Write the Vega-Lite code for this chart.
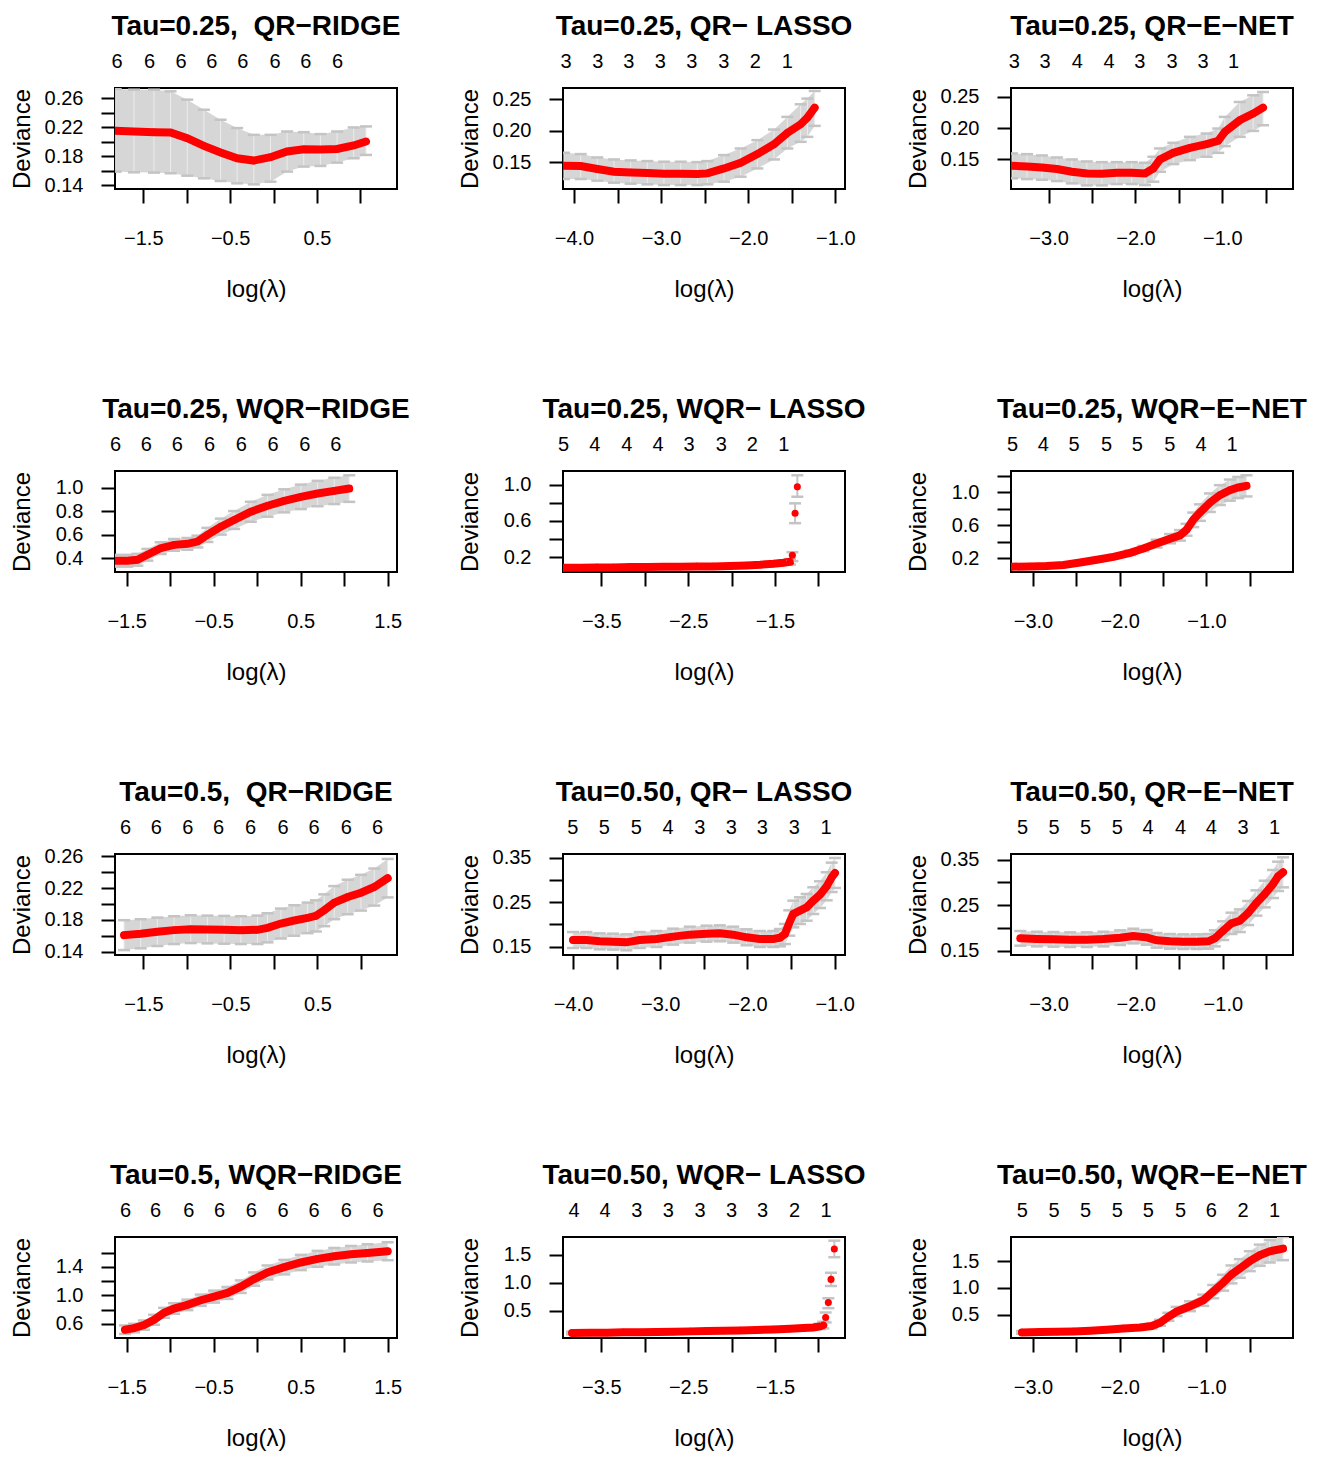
{
"$schema": "https://vega.github.io/schema/vega-lite/v6.json",
"background": "white",
"padding": {"left": 9, "top": 12, "right": 5, "bottom": 5},
"columns": 3,
"bounds": "flush",
"spacing": {"row": 282, "column": 166},
"datasets": {
"p1": [{"x":-1.818,"y":0.2148,"lo":0.1585,"hi":0.2725},{"x":-1.607,"y":0.2138,"lo":0.1575,"hi":0.2715},{"x":-1.377,"y":0.2129,"lo":0.1571,"hi":0.2715},{"x":-1.186,"y":0.2125,"lo":0.1562,"hi":0.2692},{"x":-0.994,"y":0.2046,"lo":0.1529,"hi":0.2577},{"x":-0.802,"y":0.194,"lo":0.1492,"hi":0.2438},{"x":-0.61,"y":0.1848,"lo":0.1455,"hi":0.23},{"x":-0.419,"y":0.1769,"lo":0.1423,"hi":0.2185},{"x":-0.227,"y":0.1737,"lo":0.1409,"hi":0.2092},{"x":-0.035,"y":0.1783,"lo":0.1446,"hi":0.2092},{"x":0.156,"y":0.1862,"lo":0.1585,"hi":0.2138},{"x":0.348,"y":0.1894,"lo":0.1654,"hi":0.2129},{"x":0.54,"y":0.1889,"lo":0.1663,"hi":0.2102},{"x":0.732,"y":0.1898,"lo":0.1709,"hi":0.2138},{"x":0.923,"y":0.1945,"lo":0.1769,"hi":0.2194},{"x":1.065,"y":0.2,"lo":0.1815,"hi":0.2208}],
"p2": [{"x":-4.115,"y":0.1447,"lo":0.1237,"hi":0.1653},{"x":-3.923,"y":0.1442,"lo":0.1237,"hi":0.1632},{"x":-3.732,"y":0.1395,"lo":0.1211,"hi":0.1579},{"x":-3.541,"y":0.1353,"lo":0.1179,"hi":0.1547},{"x":-3.349,"y":0.1342,"lo":0.1163,"hi":0.1532},{"x":-3.158,"y":0.1332,"lo":0.1153,"hi":0.1521},{"x":-2.967,"y":0.1321,"lo":0.1142,"hi":0.1511},{"x":-2.775,"y":0.1321,"lo":0.1142,"hi":0.1511},{"x":-2.584,"y":0.1316,"lo":0.1142,"hi":0.1505},{"x":-2.469,"y":0.1326,"lo":0.1153,"hi":0.1521},{"x":-2.278,"y":0.1405,"lo":0.1195,"hi":0.1616},{"x":-2.087,"y":0.1495,"lo":0.1274,"hi":0.1721},{"x":-1.895,"y":0.1632,"lo":0.1405,"hi":0.1853},{"x":-1.704,"y":0.1789,"lo":0.1547,"hi":0.2021},{"x":-1.551,"y":0.1968,"lo":0.1721,"hi":0.2221},{"x":-1.398,"y":0.2105,"lo":0.1826,"hi":0.2421},{"x":-1.321,"y":0.2211,"lo":0.1905,"hi":0.2511},{"x":-1.237,"y":0.2368,"lo":0.2079,"hi":0.2632}],
"p3": [{"x":-3.421,"y":0.1399,"lo":0.1197,"hi":0.1596},{"x":-3.249,"y":0.1388,"lo":0.1186,"hi":0.1585},{"x":-3.077,"y":0.1372,"lo":0.1176,"hi":0.1564},{"x":-2.904,"y":0.1346,"lo":0.1154,"hi":0.1532},{"x":-2.732,"y":0.1303,"lo":0.1117,"hi":0.15},{"x":-2.56,"y":0.1277,"lo":0.1085,"hi":0.1468},{"x":-2.387,"y":0.1271,"lo":0.1085,"hi":0.1457},{"x":-2.215,"y":0.1287,"lo":0.1106,"hi":0.1457},{"x":-2.043,"y":0.1287,"lo":0.1106,"hi":0.1457},{"x":-1.89,"y":0.1277,"lo":0.109,"hi":0.1447},{"x":-1.794,"y":0.1356,"lo":0.1144,"hi":0.1543},{"x":-1.717,"y":0.15,"lo":0.1303,"hi":0.1676},{"x":-1.564,"y":0.1606,"lo":0.1426,"hi":0.1766},{"x":-1.373,"y":0.1686,"lo":0.1489,"hi":0.1862},{"x":-1.181,"y":0.1745,"lo":0.1543,"hi":0.1915},{"x":-1.047,"y":0.1798,"lo":0.1606,"hi":0.1995},{"x":-0.971,"y":0.1941,"lo":0.1713,"hi":0.2181},{"x":-0.799,"y":0.2128,"lo":0.1862,"hi":0.242},{"x":-0.645,"y":0.2234,"lo":0.1957,"hi":0.2527},{"x":-0.531,"y":0.233,"lo":0.2048,"hi":0.258}],
"p4": [{"x":-1.627,"y":0.3775,"lo":0.3275,"hi":0.4275},{"x":-1.492,"y":0.3775,"lo":0.3275,"hi":0.4275},{"x":-1.377,"y":0.3859,"lo":0.3359,"hi":0.4359},{"x":-1.262,"y":0.4282,"lo":0.3782,"hi":0.4782},{"x":-1.109,"y":0.4845,"lo":0.4345,"hi":0.5345},{"x":-0.955,"y":0.5127,"lo":0.4627,"hi":0.5627},{"x":-0.802,"y":0.5211,"lo":0.4711,"hi":0.5711},{"x":-0.687,"y":0.5408,"lo":0.4908,"hi":0.5908},{"x":-0.572,"y":0.5972,"lo":0.5372,"hi":0.6572},{"x":-0.418,"y":0.6676,"lo":0.5996,"hi":0.7356},{"x":-0.265,"y":0.7239,"lo":0.6479,"hi":0.7999},{"x":-0.073,"y":0.7944,"lo":0.7094,"hi":0.8794},{"x":0.119,"y":0.8451,"lo":0.7521,"hi":0.9381},{"x":0.311,"y":0.8873,"lo":0.7893,"hi":0.9853},{"x":0.502,"y":0.9211,"lo":0.8171,"hi":1.0251},{"x":0.694,"y":0.9493,"lo":0.8413,"hi":1.0573},{"x":0.886,"y":0.9718,"lo":0.8598,"hi":1.0838},{"x":1.058,"y":0.9915,"lo":0.8785,"hi":1.1045}],
"p5": [{"x":-3.933,"y":0.0836,"lo":0.0716,"hi":0.0956},{"x":-3.742,"y":0.0836,"lo":0.0716,"hi":0.0956},{"x":-3.55,"y":0.0873,"lo":0.0753,"hi":0.0993},{"x":-3.358,"y":0.0873,"lo":0.0753,"hi":0.0993},{"x":-3.166,"y":0.0909,"lo":0.0789,"hi":0.1029},{"x":-2.975,"y":0.0909,"lo":0.0789,"hi":0.1029},{"x":-2.783,"y":0.0945,"lo":0.0825,"hi":0.1065},{"x":-2.591,"y":0.0945,"lo":0.0825,"hi":0.1065},{"x":-2.4,"y":0.0982,"lo":0.0862,"hi":0.1102},{"x":-2.208,"y":0.0982,"lo":0.0862,"hi":0.1102},{"x":-2.016,"y":0.1018,"lo":0.0898,"hi":0.1138},{"x":-1.824,"y":0.1091,"lo":0.0971,"hi":0.1211},{"x":-1.671,"y":0.1164,"lo":0.1044,"hi":0.1284},{"x":-1.518,"y":0.1273,"lo":0.1153,"hi":0.1393},{"x":-1.403,"y":0.1382,"lo":0.1182,"hi":0.1582},{"x":-1.326,"y":0.1491,"lo":0.1191,"hi":0.1791}],
"p5s": [{"x":-1.299,"y":0.2218,"lo":0.1564,"hi":0.2545},{"x":-1.268,"y":0.6836,"lo":0.5745,"hi":0.7927},{"x":-1.242,"y":0.9745,"lo":0.8655,"hi":1.1018}],
"p6": [{"x":-3.242,"y":0.1,"lo":0.084,"hi":0.116},{"x":-3.031,"y":0.104,"lo":0.088,"hi":0.12},{"x":-2.839,"y":0.108,"lo":0.092,"hi":0.124},{"x":-2.647,"y":0.12,"lo":0.104,"hi":0.136},{"x":-2.456,"y":0.152,"lo":0.132,"hi":0.172},{"x":-2.264,"y":0.184,"lo":0.164,"hi":0.204},{"x":-2.072,"y":0.22,"lo":0.196,"hi":0.244},{"x":-1.88,"y":0.268,"lo":0.24,"hi":0.296},{"x":-1.727,"y":0.32,"lo":0.288,"hi":0.352},{"x":-1.574,"y":0.38,"lo":0.332,"hi":0.428},{"x":-1.42,"y":0.44,"lo":0.384,"hi":0.496},{"x":-1.305,"y":0.48,"lo":0.416,"hi":0.544},{"x":-1.229,"y":0.548,"lo":0.476,"hi":0.62},{"x":-1.152,"y":0.668,"lo":0.58,"hi":0.756},{"x":-1.075,"y":0.756,"lo":0.656,"hi":0.856},{"x":-0.96,"y":0.876,"lo":0.764,"hi":0.988},{"x":-0.845,"y":0.968,"lo":0.848,"hi":1.088},{"x":-0.73,"y":1.028,"lo":0.9,"hi":1.156},{"x":-0.634,"y":1.06,"lo":0.932,"hi":1.188},{"x":-0.538,"y":1.08,"lo":0.952,"hi":1.208}],
"p7": [{"x":-1.722,"y":0.1608,"lo":0.142,"hi":0.1796},{"x":-1.531,"y":0.1625,"lo":0.1442,"hi":0.1808},{"x":-1.339,"y":0.165,"lo":0.1471,"hi":0.1829},{"x":-1.147,"y":0.1671,"lo":0.1496,"hi":0.1846},{"x":-0.956,"y":0.1683,"lo":0.1508,"hi":0.1858},{"x":-0.764,"y":0.1679,"lo":0.1504,"hi":0.1854},{"x":-0.572,"y":0.1675,"lo":0.15,"hi":0.185},{"x":-0.38,"y":0.1671,"lo":0.1496,"hi":0.1846},{"x":-0.189,"y":0.1675,"lo":0.1496,"hi":0.1854},{"x":-0.074,"y":0.17,"lo":0.1517,"hi":0.1883},{"x":0.08,"y":0.1754,"lo":0.1566,"hi":0.1942},{"x":0.233,"y":0.1792,"lo":0.16,"hi":0.1984},{"x":0.387,"y":0.1825,"lo":0.1633,"hi":0.2017},{"x":0.482,"y":0.185,"lo":0.1654,"hi":0.2046},{"x":0.578,"y":0.1921,"lo":0.1721,"hi":0.2121},{"x":0.693,"y":0.2017,"lo":0.1809,"hi":0.2225},{"x":0.847,"y":0.2088,"lo":0.1871,"hi":0.2305},{"x":1.0,"y":0.2142,"lo":0.1917,"hi":0.2367},{"x":1.153,"y":0.2213,"lo":0.198,"hi":0.2446},{"x":1.307,"y":0.2325,"lo":0.2083,"hi":0.2567}],
"p8": [{"x":-4.0,"y":0.165,"lo":0.147,"hi":0.183},{"x":-3.847,"y":0.165,"lo":0.147,"hi":0.183},{"x":-3.694,"y":0.162,"lo":0.144,"hi":0.18},{"x":-3.541,"y":0.1613,"lo":0.1433,"hi":0.1793},{"x":-3.388,"y":0.1598,"lo":0.1418,"hi":0.1778},{"x":-3.235,"y":0.165,"lo":0.147,"hi":0.183},{"x":-3.043,"y":0.1673,"lo":0.1493,"hi":0.1853},{"x":-2.852,"y":0.1726,"lo":0.1546,"hi":0.1906},{"x":-2.661,"y":0.1771,"lo":0.1591,"hi":0.1951},{"x":-2.469,"y":0.1793,"lo":0.1613,"hi":0.1973},{"x":-2.316,"y":0.1801,"lo":0.1621,"hi":0.1981},{"x":-2.163,"y":0.1771,"lo":0.1591,"hi":0.1951},{"x":-2.01,"y":0.1711,"lo":0.1531,"hi":0.1891},{"x":-1.857,"y":0.1673,"lo":0.1493,"hi":0.1853},{"x":-1.704,"y":0.1673,"lo":0.1493,"hi":0.1853},{"x":-1.627,"y":0.1703,"lo":0.1508,"hi":0.1898},{"x":-1.57,"y":0.1786,"lo":0.156,"hi":0.2012},{"x":-1.52,"y":0.2034,"lo":0.1748,"hi":0.232},{"x":-1.474,"y":0.2237,"lo":0.1936,"hi":0.2538},{"x":-1.398,"y":0.2312,"lo":0.2011,"hi":0.2613},{"x":-1.321,"y":0.2387,"lo":0.2086,"hi":0.2688},{"x":-1.245,"y":0.2538,"lo":0.2237,"hi":0.2839},{"x":-1.168,"y":0.2673,"lo":0.2372,"hi":0.2974},{"x":-1.091,"y":0.2861,"lo":0.2545,"hi":0.3177},{"x":-1.034,"y":0.3064,"lo":0.2733,"hi":0.3395},{"x":-0.996,"y":0.3162,"lo":0.2824,"hi":0.35}],
"p9": [{"x":-3.324,"y":0.1771,"lo":0.161,"hi":0.1932},{"x":-3.134,"y":0.1756,"lo":0.1595,"hi":0.1917},{"x":-2.943,"y":0.1749,"lo":0.1588,"hi":0.191},{"x":-2.752,"y":0.1742,"lo":0.1581,"hi":0.1903},{"x":-2.561,"y":0.1742,"lo":0.1581,"hi":0.1903},{"x":-2.37,"y":0.1756,"lo":0.1595,"hi":0.1917},{"x":-2.179,"y":0.1786,"lo":0.1625,"hi":0.1947},{"x":-2.027,"y":0.1822,"lo":0.1661,"hi":0.1983},{"x":-1.874,"y":0.1793,"lo":0.1632,"hi":0.1954},{"x":-1.76,"y":0.1727,"lo":0.1566,"hi":0.1888},{"x":-1.607,"y":0.1705,"lo":0.1544,"hi":0.1866},{"x":-1.454,"y":0.1698,"lo":0.1537,"hi":0.1859},{"x":-1.302,"y":0.1698,"lo":0.1537,"hi":0.1859},{"x":-1.168,"y":0.1705,"lo":0.1544,"hi":0.1866},{"x":-1.092,"y":0.1771,"lo":0.1595,"hi":0.1947},{"x":-0.996,"y":0.194,"lo":0.1735,"hi":0.2145},{"x":-0.901,"y":0.2101,"lo":0.1867,"hi":0.2335},{"x":-0.805,"y":0.2159,"lo":0.191,"hi":0.2408},{"x":-0.71,"y":0.2328,"lo":0.2064,"hi":0.2592},{"x":-0.615,"y":0.2548,"lo":0.227,"hi":0.2826},{"x":-0.519,"y":0.2745,"lo":0.2452,"hi":0.3038},{"x":-0.424,"y":0.2965,"lo":0.2657,"hi":0.3273},{"x":-0.366,"y":0.3134,"lo":0.2812,"hi":0.3456},{"x":-0.309,"y":0.3222,"lo":0.2892,"hi":0.3552}],
"p10": [{"x":-1.519,"y":0.5163,"lo":0.4563,"hi":0.5763},{"x":-1.416,"y":0.5395,"lo":0.4795,"hi":0.5995},{"x":-1.301,"y":0.5814,"lo":0.5164,"hi":0.6464},{"x":-1.185,"y":0.6558,"lo":0.5858,"hi":0.7258},{"x":-1.07,"y":0.7535,"lo":0.6835,"hi":0.8235},{"x":-0.955,"y":0.814,"lo":0.74,"hi":0.888},{"x":-0.802,"y":0.8651,"lo":0.7911,"hi":0.9391},{"x":-0.648,"y":0.9302,"lo":0.8512,"hi":1.0092},{"x":-0.495,"y":0.9814,"lo":0.8974,"hi":1.0654},{"x":-0.342,"y":1.0326,"lo":0.9486,"hi":1.1166},{"x":-0.188,"y":1.1209,"lo":1.0329,"hi":1.2089},{"x":-0.035,"y":1.2279,"lo":1.1349,"hi":1.3209},{"x":0.119,"y":1.3209,"lo":1.2229,"hi":1.4189},{"x":0.311,"y":1.3953,"lo":1.2933,"hi":1.4973},{"x":0.502,"y":1.4605,"lo":1.3535,"hi":1.5675},{"x":0.694,"y":1.5116,"lo":1.3996,"hi":1.6236},{"x":0.886,"y":1.5488,"lo":1.4328,"hi":1.6648},{"x":1.078,"y":1.5767,"lo":1.4607,"hi":1.6927},{"x":1.269,"y":1.5953,"lo":1.4743,"hi":1.7163},{"x":1.5,"y":1.6186,"lo":1.4926,"hi":1.7446}],
"p11": [{"x":-3.837,"y":0.1059,"lo":0.0824,"hi":0.1294},{"x":-3.627,"y":0.1118,"lo":0.0883,"hi":0.1353},{"x":-3.435,"y":0.1118,"lo":0.0883,"hi":0.1353},{"x":-3.243,"y":0.1176,"lo":0.0941,"hi":0.1411},{"x":-3.051,"y":0.1176,"lo":0.0941,"hi":0.1411},{"x":-2.86,"y":0.1235,"lo":0.1,"hi":0.147},{"x":-2.668,"y":0.1294,"lo":0.1059,"hi":0.1529},{"x":-2.476,"y":0.1353,"lo":0.1118,"hi":0.1588},{"x":-2.285,"y":0.1412,"lo":0.1177,"hi":0.1647},{"x":-2.093,"y":0.1471,"lo":0.1236,"hi":0.1706},{"x":-1.901,"y":0.1529,"lo":0.1294,"hi":0.1764},{"x":-1.709,"y":0.1588,"lo":0.1353,"hi":0.1823},{"x":-1.518,"y":0.1706,"lo":0.1471,"hi":0.1941},{"x":-1.326,"y":0.1824,"lo":0.1589,"hi":0.2059},{"x":-1.173,"y":0.1941,"lo":0.1706,"hi":0.2176},{"x":-1.058,"y":0.2059,"lo":0.1709,"hi":0.2409},{"x":-0.981,"y":0.2235,"lo":0.1765,"hi":0.2705},{"x":-0.943,"y":0.2471,"lo":0.1881,"hi":0.3061}],
"p11s": [{"x":-0.916,"y":0.3824,"lo":0.2941,"hi":0.4706},{"x":-0.885,"y":0.6471,"lo":0.5471,"hi":0.7235},{"x":-0.854,"y":1.0588,"lo":0.9412,"hi":1.1765},{"x":-0.816,"y":1.6,"lo":1.4529,"hi":1.7471}],
"p12": [{"x":-3.127,"y":0.1728,"lo":0.1481,"hi":0.1975},{"x":-2.916,"y":0.179,"lo":0.1543,"hi":0.2037},{"x":-2.724,"y":0.1852,"lo":0.1605,"hi":0.2099},{"x":-2.532,"y":0.1914,"lo":0.1667,"hi":0.2161},{"x":-2.34,"y":0.2037,"lo":0.179,"hi":0.2284},{"x":-2.149,"y":0.2222,"lo":0.1913,"hi":0.2531},{"x":-1.957,"y":0.2469,"lo":0.216,"hi":0.2778},{"x":-1.765,"y":0.2654,"lo":0.2284,"hi":0.3024},{"x":-1.631,"y":0.2901,"lo":0.2469,"hi":0.3333},{"x":-1.535,"y":0.3519,"lo":0.2963,"hi":0.4075},{"x":-1.439,"y":0.463,"lo":0.3889,"hi":0.5371},{"x":-1.344,"y":0.5617,"lo":0.4753,"hi":0.6481},{"x":-1.19,"y":0.6605,"lo":0.5679,"hi":0.7531},{"x":-1.037,"y":0.7716,"lo":0.6667,"hi":0.8765},{"x":-0.922,"y":0.9321,"lo":0.8086,"hi":1.0556},{"x":-0.807,"y":1.0988,"lo":0.9507,"hi":1.2469},{"x":-0.711,"y":1.2531,"lo":1.0864,"hi":1.4198},{"x":-0.615,"y":1.3642,"lo":1.1914,"hi":1.537},{"x":-0.5,"y":1.5,"lo":1.3148,"hi":1.6852},{"x":-0.385,"y":1.6111,"lo":1.4136,"hi":1.8086},{"x":-0.27,"y":1.6852,"lo":1.4753,"hi":1.8951},{"x":-0.117,"y":1.7346,"lo":1.5186,"hi":1.9506}]
},
"concat": [
{"width":282,"height":101,"title":{"text":"Tau=0.25, \u00a0QR−RIDGE"},"data":{"name":"p1"},
 "encoding":{"x":{"field":"x","type":"quantitative","title":"log(λ)","scale":{"domain":[-1.826,1.422],"nice":false,"zero":false},"axis":{"tickCount":30,"values":[-1.5,-1,-0.5,0,0.5,1],"format":".1f","labelExpr":"indexof([-1.5,-0.5,0.5], datum.value) >= 0 ? datum.label : ''"}}},
 "layer":[
  {"layer":[
   {"mark":{"type":"area","color":"#d6d6d6","opacity":1,"clip":true},"encoding":{"y":{"field":"lo","type":"quantitative","title":"Deviance","scale":{"domain":[0.1345,0.2738],"nice":false,"zero":false},"axis":{"tickCount":30,"values":[0.14,0.16,0.18,0.2,0.22,0.24,0.26],"format":".2f","labelExpr":"indexof([0.14,0.18,0.22,0.26], datum.value) >= 0 ? datum.label : ''"}},"y2":{"field":"hi"}}},
   {"mark":{"type":"rule","color":"#ececec","strokeWidth":1,"clip":true},"encoding":{"y":{"field":"lo","type":"quantitative","title":"Deviance"},"y2":{"field":"hi"}}},
   {"mark":{"type":"point","shape":"M-1,0L1,0","filled":false,"color":"#c4c4c4","strokeWidth":2.5,"size":144,"opacity":1,"clip":true},"encoding":{"y":{"field":"hi","type":"quantitative","title":"Deviance"}}},
   {"mark":{"type":"point","shape":"M-1,0L1,0","filled":false,"color":"#c4c4c4","strokeWidth":2.5,"size":144,"opacity":1,"clip":true},"encoding":{"y":{"field":"lo","type":"quantitative","title":"Deviance"}}},
   {"mark":{"type":"line","color":"#ff0000","strokeWidth":8,"strokeCap":"round","clip":true},"encoding":{"y":{"field":"y","type":"quantitative","title":"Deviance"}}}
  ]},
  {"mark":{"type":"point","filled":true,"color":"#ff0000","size":50,"opacity":1,"clip":true},"encoding":{"y":{"field":"y","type":"quantitative","title":"Deviance"},"x":{"field":"x","type":"quantitative","scale":{"domain":[-1.826,1.422],"nice":false,"zero":false},"axis":{"orient":"top","title":null,"tickCount":30,"values":[-1.807,-1.435,-1.071,-0.718,-0.361,0.011,0.367,0.732],"labelExpr":"'6'"}}}}
 ],
 "resolve":{"axis":{"x":"independent"}}},
{"width":282,"height":101,"title":{"text":"Tau=0.25, QR− LASSO"},"data":{"name":"p2"},
 "encoding":{"x":{"field":"x","type":"quantitative","title":"log(λ)","scale":{"domain":[-4.126,-0.889],"nice":false,"zero":false},"axis":{"tickCount":30,"values":[-4,-3.5,-3,-2.5,-2,-1.5,-1],"format":".1f","labelExpr":"indexof([-4,-3,-2,-1], datum.value) >= 0 ? datum.label : ''"}}},
 "layer":[
  {"layer":[
   {"mark":{"type":"area","color":"#d6d6d6","opacity":1,"clip":true},"encoding":{"y":{"field":"lo","type":"quantitative","title":"Deviance","scale":{"domain":[0.1079,0.2679],"nice":false,"zero":false},"axis":{"tickCount":30,"values":[0.15,0.2,0.25],"format":".2f"}},"y2":{"field":"hi"}}},
   {"mark":{"type":"rule","color":"#ececec","strokeWidth":1,"clip":true},"encoding":{"y":{"field":"lo","type":"quantitative","title":"Deviance"},"y2":{"field":"hi"}}},
   {"mark":{"type":"point","shape":"M-1,0L1,0","filled":false,"color":"#c4c4c4","strokeWidth":2.5,"size":144,"opacity":1,"clip":true},"encoding":{"y":{"field":"hi","type":"quantitative","title":"Deviance"}}},
   {"mark":{"type":"point","shape":"M-1,0L1,0","filled":false,"color":"#c4c4c4","strokeWidth":2.5,"size":144,"opacity":1,"clip":true},"encoding":{"y":{"field":"lo","type":"quantitative","title":"Deviance"}}},
   {"mark":{"type":"line","color":"#ff0000","strokeWidth":8,"strokeCap":"round","clip":true},"encoding":{"y":{"field":"y","type":"quantitative","title":"Deviance"}}}
  ]},
  {"mark":{"type":"point","filled":true,"color":"#ff0000","size":50,"opacity":1,"clip":true},"encoding":{"y":{"field":"y","type":"quantitative","title":"Deviance"},"x":{"field":"x","type":"quantitative","scale":{"domain":[-4.126,-0.889],"nice":false,"zero":false},"axis":{"orient":"top","title":null,"tickCount":30,"values":[-4.096,-3.732,-3.376,-3.016,-2.652,-2.285,-1.925,-1.558],"labelExpr":"['3','3','3','3','3','3','2','1'][indexof([-4.096,-3.732,-3.376,-3.016,-2.652,-2.285,-1.925,-1.558], datum.value)]"}}}}
 ],
 "resolve":{"axis":{"x":"independent"}}},
{"width":282,"height":101,"title":{"text":"Tau=0.25, QR−E−NET"},"data":{"name":"p3"},
 "encoding":{"x":{"field":"x","type":"quantitative","title":"log(λ)","scale":{"domain":[-3.433,-0.186],"nice":false,"zero":false},"axis":{"tickCount":30,"values":[-3,-2.5,-2,-1.5,-1,-0.5],"format":".1f","labelExpr":"indexof([-3,-2,-1], datum.value) >= 0 ? datum.label : ''"}}},
 "layer":[
  {"layer":[
   {"mark":{"type":"area","color":"#d6d6d6","opacity":1,"clip":true},"encoding":{"y":{"field":"lo","type":"quantitative","title":"Deviance","scale":{"domain":[0.1027,0.2644],"nice":false,"zero":false},"axis":{"tickCount":30,"values":[0.15,0.2,0.25],"format":".2f"}},"y2":{"field":"hi"}}},
   {"mark":{"type":"rule","color":"#ececec","strokeWidth":1,"clip":true},"encoding":{"y":{"field":"lo","type":"quantitative","title":"Deviance"},"y2":{"field":"hi"}}},
   {"mark":{"type":"point","shape":"M-1,0L1,0","filled":false,"color":"#c4c4c4","strokeWidth":2.5,"size":144,"opacity":1,"clip":true},"encoding":{"y":{"field":"hi","type":"quantitative","title":"Deviance"}}},
   {"mark":{"type":"point","shape":"M-1,0L1,0","filled":false,"color":"#c4c4c4","strokeWidth":2.5,"size":144,"opacity":1,"clip":true},"encoding":{"y":{"field":"lo","type":"quantitative","title":"Deviance"}}},
   {"mark":{"type":"line","color":"#ff0000","strokeWidth":8,"strokeCap":"round","clip":true},"encoding":{"y":{"field":"y","type":"quantitative","title":"Deviance"}}}
  ]},
  {"mark":{"type":"point","filled":true,"color":"#ff0000","size":50,"opacity":1,"clip":true},"encoding":{"y":{"field":"y","type":"quantitative","title":"Deviance"},"x":{"field":"x","type":"quantitative","scale":{"domain":[-3.433,-0.186],"nice":false,"zero":false},"axis":{"orient":"top","title":null,"tickCount":30,"values":[-3.402,-3.046,-2.675,-2.311,-1.955,-1.583,-1.227,-0.875],"labelExpr":"['3','3','4','4','3','3','3','1'][indexof([-3.402,-3.046,-2.675,-2.311,-1.955,-1.583,-1.227,-0.875], datum.value)]"}}}}
 ],
 "resolve":{"axis":{"x":"independent"}}},
{"width":282,"height":101,"title":{"text":"Tau=0.25, WQR−RIDGE"},"data":{"name":"p4"},
 "encoding":{"x":{"field":"x","type":"quantitative","title":"log(λ)","scale":{"domain":[-1.634,1.607],"nice":false,"zero":false},"axis":{"tickCount":30,"values":[-1.5,-1,-0.5,0,0.5,1,1.5],"format":".1f","labelExpr":"indexof([-1.5,-0.5,0.5,1.5], datum.value) >= 0 ? datum.label : ''"}}},
 "layer":[
  {"layer":[
   {"mark":{"type":"area","color":"#d6d6d6","opacity":1,"clip":true},"encoding":{"y":{"field":"lo","type":"quantitative","title":"Deviance","scale":{"domain":[0.2817,1.141],"nice":false,"zero":false},"axis":{"tickCount":30,"values":[0.4,0.6,0.8,1],"format":".1f"}},"y2":{"field":"hi"}}},
   {"mark":{"type":"rule","color":"#ececec","strokeWidth":1,"clip":true},"encoding":{"y":{"field":"lo","type":"quantitative","title":"Deviance"},"y2":{"field":"hi"}}},
   {"mark":{"type":"point","shape":"M-1,0L1,0","filled":false,"color":"#c4c4c4","strokeWidth":2.5,"size":144,"opacity":1,"clip":true},"encoding":{"y":{"field":"hi","type":"quantitative","title":"Deviance"}}},
   {"mark":{"type":"point","shape":"M-1,0L1,0","filled":false,"color":"#c4c4c4","strokeWidth":2.5,"size":144,"opacity":1,"clip":true},"encoding":{"y":{"field":"lo","type":"quantitative","title":"Deviance"}}},
   {"mark":{"type":"line","color":"#ff0000","strokeWidth":8,"strokeCap":"round","clip":true},"encoding":{"y":{"field":"y","type":"quantitative","title":"Deviance"}}}
  ]},
  {"mark":{"type":"point","filled":true,"color":"#ff0000","size":50,"opacity":1,"clip":true},"encoding":{"y":{"field":"y","type":"quantitative","title":"Deviance"},"x":{"field":"x","type":"quantitative","scale":{"domain":[-1.634,1.607],"nice":false,"zero":false},"axis":{"orient":"top","title":null,"tickCount":30,"values":[-1.634,-1.281,-0.925,-0.553,-0.188,0.176,0.541,0.897],"labelExpr":"'6'"}}}}
 ],
 "resolve":{"axis":{"x":"independent"}}},
{"width":282,"height":101,"title":{"text":"Tau=0.25, WQR− LASSO"},"data":{"name":"p5"},
 "encoding":{"x":{"field":"x","type":"quantitative","title":"log(λ)","scale":{"domain":[-3.941,-0.693],"nice":false,"zero":false},"axis":{"tickCount":30,"values":[-3.5,-3,-2.5,-2,-1.5,-1],"format":".1f","labelExpr":"indexof([-3.5,-2.5,-1.5], datum.value) >= 0 ? datum.label : ''"}}},
 "layer":[
  {"layer":[
   {"mark":{"type":"area","color":"#d6d6d6","opacity":1,"clip":true},"encoding":{"y":{"field":"lo","type":"quantitative","title":"Deviance","scale":{"domain":[0.0364,1.149],"nice":false,"zero":false},"axis":{"tickCount":30,"values":[0.2,0.4,0.6,0.8,1],"format":".1f","labelExpr":"indexof([0.2,0.6,1], datum.value) >= 0 ? datum.label : ''"}},"y2":{"field":"hi"}}},
   {"mark":{"type":"rule","color":"#ececec","strokeWidth":1,"clip":true},"encoding":{"y":{"field":"lo","type":"quantitative","title":"Deviance"},"y2":{"field":"hi"}}},
   {"mark":{"type":"point","shape":"M-1,0L1,0","filled":false,"color":"#c4c4c4","strokeWidth":2.5,"size":144,"opacity":1,"clip":true},"encoding":{"y":{"field":"hi","type":"quantitative","title":"Deviance"}}},
   {"mark":{"type":"point","shape":"M-1,0L1,0","filled":false,"color":"#c4c4c4","strokeWidth":2.5,"size":144,"opacity":1,"clip":true},"encoding":{"y":{"field":"lo","type":"quantitative","title":"Deviance"}}},
   {"mark":{"type":"line","color":"#ff0000","strokeWidth":8,"strokeCap":"round","clip":true},"encoding":{"y":{"field":"y","type":"quantitative","title":"Deviance"}}},
   {"data":{"name":"p5s"},"layer":[
     {"mark":{"type":"rule","color":"#c4c4c4","strokeWidth":2,"clip":true},"encoding":{"y":{"field":"lo","type":"quantitative","title":"Deviance"},"y2":{"field":"hi"}}},
     {"mark":{"type":"point","shape":"M-1,0L1,0","filled":false,"color":"#c4c4c4","strokeWidth":2.5,"size":144,"opacity":1,"clip":true},"encoding":{"y":{"field":"hi","type":"quantitative","title":"Deviance"}}},
     {"mark":{"type":"point","shape":"M-1,0L1,0","filled":false,"color":"#c4c4c4","strokeWidth":2.5,"size":144,"opacity":1,"clip":true},"encoding":{"y":{"field":"lo","type":"quantitative","title":"Deviance"}}},
     {"mark":{"type":"point","filled":true,"color":"#ff0000","size":50,"opacity":1,"clip":true},"encoding":{"y":{"field":"y","type":"quantitative","title":"Deviance"}}}
   ]}
  ]},
  {"mark":{"type":"point","filled":true,"color":"#ff0000","size":50,"opacity":1,"clip":true},"encoding":{"y":{"field":"y","type":"quantitative","title":"Deviance"},"x":{"field":"x","type":"quantitative","scale":{"domain":[-3.941,-0.693],"nice":false,"zero":false},"axis":{"orient":"top","title":null,"tickCount":30,"values":[-3.941,-3.581,-3.212,-2.852,-2.495,-2.123,-1.767,-1.403],"labelExpr":"['5','4','4','4','3','3','2','1'][indexof([-3.941,-3.581,-3.212,-2.852,-2.495,-2.123,-1.767,-1.403], datum.value)]"}}}}
 ],
 "resolve":{"axis":{"x":"independent"}}},
{"width":282,"height":101,"title":{"text":"Tau=0.25, WQR−E−NET"},"data":{"name":"p6"},
 "encoding":{"x":{"field":"x","type":"quantitative","title":"log(λ)","scale":{"domain":[-3.253,-0.002],"nice":false,"zero":false},"axis":{"tickCount":30,"values":[-3,-2.5,-2,-1.5,-1,-0.5],"format":".1f","labelExpr":"indexof([-3,-2,-1], datum.value) >= 0 ? datum.label : ''"}}},
 "layer":[
  {"layer":[
   {"mark":{"type":"area","color":"#d6d6d6","opacity":1,"clip":true},"encoding":{"y":{"field":"lo","type":"quantitative","title":"Deviance","scale":{"domain":[0.036,1.26],"nice":false,"zero":false},"axis":{"tickCount":30,"values":[0.2,0.4,0.6,0.8,1,1.2],"format":".1f","labelExpr":"indexof([0.2,0.6,1], datum.value) >= 0 ? datum.label : ''"}},"y2":{"field":"hi"}}},
   {"mark":{"type":"rule","color":"#ececec","strokeWidth":1,"clip":true},"encoding":{"y":{"field":"lo","type":"quantitative","title":"Deviance"},"y2":{"field":"hi"}}},
   {"mark":{"type":"point","shape":"M-1,0L1,0","filled":false,"color":"#c4c4c4","strokeWidth":2.5,"size":144,"opacity":1,"clip":true},"encoding":{"y":{"field":"hi","type":"quantitative","title":"Deviance"}}},
   {"mark":{"type":"point","shape":"M-1,0L1,0","filled":false,"color":"#c4c4c4","strokeWidth":2.5,"size":144,"opacity":1,"clip":true},"encoding":{"y":{"field":"lo","type":"quantitative","title":"Deviance"}}},
   {"mark":{"type":"line","color":"#ff0000","strokeWidth":8,"strokeCap":"round","clip":true},"encoding":{"y":{"field":"y","type":"quantitative","title":"Deviance"}}}
  ]},
  {"mark":{"type":"point","filled":true,"color":"#ff0000","size":50,"opacity":1,"clip":true},"encoding":{"y":{"field":"y","type":"quantitative","title":"Deviance"},"x":{"field":"x","type":"quantitative","scale":{"domain":[-3.253,-0.002],"nice":false,"zero":false},"axis":{"orient":"top","title":null,"tickCount":30,"values":[-3.242,-2.885,-2.532,-2.156,-1.804,-1.428,-1.067,-0.711],"labelExpr":"['5','4','5','5','5','5','4','1'][indexof([-3.242,-2.885,-2.532,-2.156,-1.804,-1.428,-1.067,-0.711], datum.value)]"}}}}
 ],
 "resolve":{"axis":{"x":"independent"}}},
{"width":282,"height":101,"title":{"text":"Tau=0.5, \u00a0QR−RIDGE"},"data":{"name":"p7"},
 "encoding":{"x":{"field":"x","type":"quantitative","title":"log(λ)","scale":{"domain":[-1.826,1.414],"nice":false,"zero":false},"axis":{"tickCount":30,"values":[-1.5,-1,-0.5,0,0.5,1],"format":".1f","labelExpr":"indexof([-1.5,-0.5,0.5], datum.value) >= 0 ? datum.label : ''"}}},
 "layer":[
  {"layer":[
   {"mark":{"type":"area","color":"#d6d6d6","opacity":1,"clip":true},"encoding":{"y":{"field":"lo","type":"quantitative","title":"Deviance","scale":{"domain":[0.1358,0.2629],"nice":false,"zero":false},"axis":{"tickCount":30,"values":[0.14,0.16,0.18,0.2,0.22,0.24,0.26],"format":".2f","labelExpr":"indexof([0.14,0.18,0.22,0.26], datum.value) >= 0 ? datum.label : ''"}},"y2":{"field":"hi"}}},
   {"mark":{"type":"rule","color":"#ececec","strokeWidth":1,"clip":true},"encoding":{"y":{"field":"lo","type":"quantitative","title":"Deviance"},"y2":{"field":"hi"}}},
   {"mark":{"type":"point","shape":"M-1,0L1,0","filled":false,"color":"#c4c4c4","strokeWidth":2.5,"size":144,"opacity":1,"clip":true},"encoding":{"y":{"field":"hi","type":"quantitative","title":"Deviance"}}},
   {"mark":{"type":"point","shape":"M-1,0L1,0","filled":false,"color":"#c4c4c4","strokeWidth":2.5,"size":144,"opacity":1,"clip":true},"encoding":{"y":{"field":"lo","type":"quantitative","title":"Deviance"}}},
   {"mark":{"type":"line","color":"#ff0000","strokeWidth":8,"strokeCap":"round","clip":true},"encoding":{"y":{"field":"y","type":"quantitative","title":"Deviance"}}}
  ]},
  {"mark":{"type":"point","filled":true,"color":"#ff0000","size":50,"opacity":1,"clip":true},"encoding":{"y":{"field":"y","type":"quantitative","title":"Deviance"},"x":{"field":"x","type":"quantitative","scale":{"domain":[-1.826,1.414],"nice":false,"zero":false},"axis":{"orient":"top","title":null,"tickCount":30,"values":[-1.711,-1.358,-0.994,-0.641,-0.273,0.099,0.456,0.827,1.184],"labelExpr":"'6'"}}}}
 ],
 "resolve":{"axis":{"x":"independent"}}},
{"width":282,"height":101,"title":{"text":"Tau=0.50, QR− LASSO"},"data":{"name":"p8"},
 "encoding":{"x":{"field":"x","type":"quantitative","title":"log(λ)","scale":{"domain":[-4.115,-0.881],"nice":false,"zero":false},"axis":{"tickCount":30,"values":[-4,-3.5,-3,-2.5,-2,-1.5,-1],"format":".1f","labelExpr":"indexof([-4,-3,-2,-1], datum.value) >= 0 ? datum.label : ''"}}},
 "layer":[
  {"layer":[
   {"mark":{"type":"area","color":"#d6d6d6","opacity":1,"clip":true},"encoding":{"y":{"field":"lo","type":"quantitative","title":"Deviance","scale":{"domain":[0.1312,0.359],"nice":false,"zero":false},"axis":{"tickCount":30,"values":[0.15,0.2,0.25,0.3,0.35],"format":".2f","labelExpr":"indexof([0.15,0.25,0.35], datum.value) >= 0 ? datum.label : ''"}},"y2":{"field":"hi"}}},
   {"mark":{"type":"rule","color":"#ececec","strokeWidth":1,"clip":true},"encoding":{"y":{"field":"lo","type":"quantitative","title":"Deviance"},"y2":{"field":"hi"}}},
   {"mark":{"type":"point","shape":"M-1,0L1,0","filled":false,"color":"#c4c4c4","strokeWidth":2.5,"size":144,"opacity":1,"clip":true},"encoding":{"y":{"field":"hi","type":"quantitative","title":"Deviance"}}},
   {"mark":{"type":"point","shape":"M-1,0L1,0","filled":false,"color":"#c4c4c4","strokeWidth":2.5,"size":144,"opacity":1,"clip":true},"encoding":{"y":{"field":"lo","type":"quantitative","title":"Deviance"}}},
   {"mark":{"type":"line","color":"#ff0000","strokeWidth":8,"strokeCap":"round","clip":true},"encoding":{"y":{"field":"y","type":"quantitative","title":"Deviance"}}}
  ]},
  {"mark":{"type":"point","filled":true,"color":"#ff0000","size":50,"opacity":1,"clip":true},"encoding":{"y":{"field":"y","type":"quantitative","title":"Deviance"},"x":{"field":"x","type":"quantitative","scale":{"domain":[-4.115,-0.881],"nice":false,"zero":false},"axis":{"orient":"top","title":null,"tickCount":30,"values":[-4.008,-3.648,-3.281,-2.917,-2.553,-2.19,-1.834,-1.467,-1.103],"labelExpr":"['5','5','5','4','3','3','3','3','1'][indexof([-4.008,-3.648,-3.281,-2.917,-2.553,-2.19,-1.834,-1.467,-1.103], datum.value)]"}}}}
 ],
 "resolve":{"axis":{"x":"independent"}}},
{"width":282,"height":101,"title":{"text":"Tau=0.50, QR−E−NET"},"data":{"name":"p9"},
 "encoding":{"x":{"field":"x","type":"quantitative","title":"log(λ)","scale":{"domain":[-3.431,-0.195],"nice":false,"zero":false},"axis":{"tickCount":30,"values":[-3,-2.5,-2,-1.5,-1,-0.5],"format":".1f","labelExpr":"indexof([-3,-2,-1], datum.value) >= 0 ? datum.label : ''"}}},
 "layer":[
  {"layer":[
   {"mark":{"type":"area","color":"#d6d6d6","opacity":1,"clip":true},"encoding":{"y":{"field":"lo","type":"quantitative","title":"Deviance","scale":{"domain":[0.1405,0.3625],"nice":false,"zero":false},"axis":{"tickCount":30,"values":[0.15,0.2,0.25,0.3,0.35],"format":".2f","labelExpr":"indexof([0.15,0.25,0.35], datum.value) >= 0 ? datum.label : ''"}},"y2":{"field":"hi"}}},
   {"mark":{"type":"rule","color":"#ececec","strokeWidth":1,"clip":true},"encoding":{"y":{"field":"lo","type":"quantitative","title":"Deviance"},"y2":{"field":"hi"}}},
   {"mark":{"type":"point","shape":"M-1,0L1,0","filled":false,"color":"#c4c4c4","strokeWidth":2.5,"size":144,"opacity":1,"clip":true},"encoding":{"y":{"field":"hi","type":"quantitative","title":"Deviance"}}},
   {"mark":{"type":"point","shape":"M-1,0L1,0","filled":false,"color":"#c4c4c4","strokeWidth":2.5,"size":144,"opacity":1,"clip":true},"encoding":{"y":{"field":"lo","type":"quantitative","title":"Deviance"}}},
   {"mark":{"type":"line","color":"#ff0000","strokeWidth":8,"strokeCap":"round","clip":true},"encoding":{"y":{"field":"y","type":"quantitative","title":"Deviance"}}}
  ]},
  {"mark":{"type":"point","filled":true,"color":"#ff0000","size":50,"opacity":1,"clip":true},"encoding":{"y":{"field":"y","type":"quantitative","title":"Deviance"},"x":{"field":"x","type":"quantitative","scale":{"domain":[-3.431,-0.195],"nice":false,"zero":false},"axis":{"orient":"top","title":null,"tickCount":30,"values":[-3.305,-2.943,-2.58,-2.218,-1.863,-1.492,-1.137,-0.775,-0.412],"labelExpr":"['5','5','5','5','4','4','4','3','1'][indexof([-3.305,-2.943,-2.58,-2.218,-1.863,-1.492,-1.137,-0.775,-0.412], datum.value)]"}}}}
 ],
 "resolve":{"axis":{"x":"independent"}}},
{"width":282,"height":101,"title":{"text":"Tau=0.5, WQR−RIDGE"},"data":{"name":"p10"},
 "encoding":{"x":{"field":"x","type":"quantitative","title":"log(λ)","scale":{"domain":[-1.634,1.607],"nice":false,"zero":false},"axis":{"tickCount":30,"values":[-1.5,-1,-0.5,0,0.5,1,1.5],"format":".1f","labelExpr":"indexof([-1.5,-0.5,0.5,1.5], datum.value) >= 0 ? datum.label : ''"}}},
 "layer":[
  {"layer":[
   {"mark":{"type":"area","color":"#d6d6d6","opacity":1,"clip":true},"encoding":{"y":{"field":"lo","type":"quantitative","title":"Deviance","scale":{"domain":[0.4,1.8186],"nice":false,"zero":false},"axis":{"tickCount":30,"values":[0.6,0.8,1,1.2,1.4,1.6],"format":".1f","labelExpr":"indexof([0.6,1,1.4], datum.value) >= 0 ? datum.label : ''"}},"y2":{"field":"hi"}}},
   {"mark":{"type":"rule","color":"#ececec","strokeWidth":1,"clip":true},"encoding":{"y":{"field":"lo","type":"quantitative","title":"Deviance"},"y2":{"field":"hi"}}},
   {"mark":{"type":"point","shape":"M-1,0L1,0","filled":false,"color":"#c4c4c4","strokeWidth":2.5,"size":144,"opacity":1,"clip":true},"encoding":{"y":{"field":"hi","type":"quantitative","title":"Deviance"}}},
   {"mark":{"type":"point","shape":"M-1,0L1,0","filled":false,"color":"#c4c4c4","strokeWidth":2.5,"size":144,"opacity":1,"clip":true},"encoding":{"y":{"field":"lo","type":"quantitative","title":"Deviance"}}},
   {"mark":{"type":"line","color":"#ff0000","strokeWidth":8,"strokeCap":"round","clip":true},"encoding":{"y":{"field":"y","type":"quantitative","title":"Deviance"}}}
  ]},
  {"mark":{"type":"point","filled":true,"color":"#ff0000","size":50,"opacity":1,"clip":true},"encoding":{"y":{"field":"y","type":"quantitative","title":"Deviance"},"x":{"field":"x","type":"quantitative","scale":{"domain":[-1.634,1.607],"nice":false,"zero":false},"axis":{"orient":"top","title":null,"tickCount":30,"values":[-1.519,-1.174,-0.79,-0.437,-0.073,0.291,0.648,1.02,1.385],"labelExpr":"'6'"}}}}
 ],
 "resolve":{"axis":{"x":"independent"}}},
{"width":282,"height":101,"title":{"text":"Tau=0.50, WQR− LASSO"},"data":{"name":"p11"},
 "encoding":{"x":{"field":"x","type":"quantitative","title":"log(λ)","scale":{"domain":[-3.941,-0.693],"nice":false,"zero":false},"axis":{"tickCount":30,"values":[-3.5,-3,-2.5,-2,-1.5,-1],"format":".1f","labelExpr":"indexof([-3.5,-2.5,-1.5], datum.value) >= 0 ? datum.label : ''"}}},
 "layer":[
  {"layer":[
   {"mark":{"type":"area","color":"#d6d6d6","opacity":1,"clip":true},"encoding":{"y":{"field":"lo","type":"quantitative","title":"Deviance","scale":{"domain":[0.0176,1.812],"nice":false,"zero":false},"axis":{"tickCount":30,"values":[0.5,1,1.5],"format":".1f"}},"y2":{"field":"hi"}}},
   {"mark":{"type":"rule","color":"#ececec","strokeWidth":1,"clip":true},"encoding":{"y":{"field":"lo","type":"quantitative","title":"Deviance"},"y2":{"field":"hi"}}},
   {"mark":{"type":"point","shape":"M-1,0L1,0","filled":false,"color":"#c4c4c4","strokeWidth":2.5,"size":144,"opacity":1,"clip":true},"encoding":{"y":{"field":"hi","type":"quantitative","title":"Deviance"}}},
   {"mark":{"type":"point","shape":"M-1,0L1,0","filled":false,"color":"#c4c4c4","strokeWidth":2.5,"size":144,"opacity":1,"clip":true},"encoding":{"y":{"field":"lo","type":"quantitative","title":"Deviance"}}},
   {"mark":{"type":"line","color":"#ff0000","strokeWidth":8,"strokeCap":"round","clip":true},"encoding":{"y":{"field":"y","type":"quantitative","title":"Deviance"}}},
   {"data":{"name":"p11s"},"layer":[
     {"mark":{"type":"rule","color":"#c4c4c4","strokeWidth":2,"clip":true},"encoding":{"y":{"field":"lo","type":"quantitative","title":"Deviance"},"y2":{"field":"hi"}}},
     {"mark":{"type":"point","shape":"M-1,0L1,0","filled":false,"color":"#c4c4c4","strokeWidth":2.5,"size":144,"opacity":1,"clip":true},"encoding":{"y":{"field":"hi","type":"quantitative","title":"Deviance"}}},
     {"mark":{"type":"point","shape":"M-1,0L1,0","filled":false,"color":"#c4c4c4","strokeWidth":2.5,"size":144,"opacity":1,"clip":true},"encoding":{"y":{"field":"lo","type":"quantitative","title":"Deviance"}}},
     {"mark":{"type":"point","filled":true,"color":"#ff0000","size":50,"opacity":1,"clip":true},"encoding":{"y":{"field":"y","type":"quantitative","title":"Deviance"}}}
   ]}
  ]},
  {"mark":{"type":"point","filled":true,"color":"#ff0000","size":50,"opacity":1,"clip":true},"encoding":{"y":{"field":"y","type":"quantitative","title":"Deviance"},"x":{"field":"x","type":"quantitative","scale":{"domain":[-3.941,-0.693],"nice":false,"zero":false},"axis":{"orient":"top","title":null,"tickCount":30,"values":[-3.818,-3.462,-3.097,-2.733,-2.369,-2.004,-1.648,-1.28,-0.916],"labelExpr":"['4','4','3','3','3','3','3','2','1'][indexof([-3.818,-3.462,-3.097,-2.733,-2.369,-2.004,-1.648,-1.28,-0.916], datum.value)]"}}}}
 ],
 "resolve":{"axis":{"x":"independent"}}},
{"width":282,"height":101,"title":{"text":"Tau=0.50, WQR−E−NET"},"data":{"name":"p12"},
 "encoding":{"x":{"field":"x","type":"quantitative","title":"log(λ)","scale":{"domain":[-3.253,-0.002],"nice":false,"zero":false},"axis":{"tickCount":30,"values":[-3,-2.5,-2,-1.5,-1,-0.5],"format":".1f","labelExpr":"indexof([-3,-2,-1], datum.value) >= 0 ? datum.label : ''"}}},
 "layer":[
  {"layer":[
   {"mark":{"type":"area","color":"#d6d6d6","opacity":1,"clip":true},"encoding":{"y":{"field":"lo","type":"quantitative","title":"Deviance","scale":{"domain":[0.068,1.9506],"nice":false,"zero":false},"axis":{"tickCount":30,"values":[0.5,1,1.5],"format":".1f"}},"y2":{"field":"hi"}}},
   {"mark":{"type":"rule","color":"#ececec","strokeWidth":1,"clip":true},"encoding":{"y":{"field":"lo","type":"quantitative","title":"Deviance"},"y2":{"field":"hi"}}},
   {"mark":{"type":"point","shape":"M-1,0L1,0","filled":false,"color":"#c4c4c4","strokeWidth":2.5,"size":144,"opacity":1,"clip":true},"encoding":{"y":{"field":"hi","type":"quantitative","title":"Deviance"}}},
   {"mark":{"type":"point","shape":"M-1,0L1,0","filled":false,"color":"#c4c4c4","strokeWidth":2.5,"size":144,"opacity":1,"clip":true},"encoding":{"y":{"field":"lo","type":"quantitative","title":"Deviance"}}},
   {"mark":{"type":"line","color":"#ff0000","strokeWidth":8,"strokeCap":"round","clip":true},"encoding":{"y":{"field":"y","type":"quantitative","title":"Deviance"}}}
  ]},
  {"mark":{"type":"point","filled":true,"color":"#ff0000","size":50,"opacity":1,"clip":true},"encoding":{"y":{"field":"y","type":"quantitative","title":"Deviance"},"x":{"field":"x","type":"quantitative","scale":{"domain":[-3.253,-0.002],"nice":false,"zero":false},"axis":{"orient":"top","title":null,"tickCount":30,"values":[-3.127,-2.762,-2.398,-2.034,-1.677,-1.305,-0.949,-0.584,-0.22],"labelExpr":"['5','5','5','5','5','5','6','2','1'][indexof([-3.127,-2.762,-2.398,-2.034,-1.677,-1.305,-0.949,-0.584,-0.22], datum.value)]"}}}}
 ],
 "resolve":{"axis":{"x":"independent"}}}
],
"config": {
 "font": "Liberation Sans",
 "view": {"stroke": "black", "strokeWidth": 2, "fill": "white"},
 "axis": {"grid": false, "domain": false, "tickColor": "black", "tickWidth": 2, "labelColor": "black", "labelFont": "Liberation Sans", "labelFontSize": 20, "titleFont": "Liberation Sans", "titleFontSize": 24, "titleFontWeight": "normal", "titleColor": "black", "labelFlush": false, "labelOverlap": false, "labelBound": false},
 "axisBottom": {"tickSize": 14, "labelPadding": 25, "minExtent": 60, "maxExtent": 60, "titlePadding": 47, "titleBaseline": "alphabetic"},
 "axisLeft": {"tickSize": 14, "labelPadding": 18, "minExtent": 72, "maxExtent": 72, "titlePadding": 14, "titleBaseline": "alphabetic"},
 "axisTop": {"ticks": false, "labelPadding": 21, "labelBaseline": "alphabetic"},
 "title": {"font": "Liberation Sans", "fontSize": 28, "fontWeight": "bold", "anchor": "middle", "frame": "group", "color": "black", "offset": 10, "baseline": "alphabetic"}
}
}
